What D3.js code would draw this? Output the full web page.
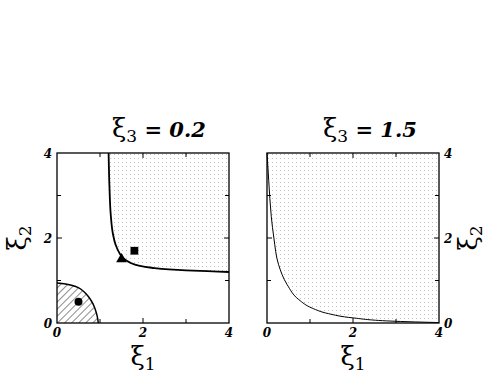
<!DOCTYPE html>
<html>
<head>
<meta charset="utf-8">
<script src="https://cdn.jsdelivr.net/npm/d3@7"></script>
<style>
  body { margin: 0; background: #fff; }
  svg { display: block; }
  text { font-family: "DejaVu Serif", serif; }
</style>
</head>
<body>
<svg id="chart" width="494" height="382"></svg>
<script>
// ---- data ----
// left panel (xi3 = 0.2): upper boundary curve
const leftCurveX = [1.20, 1.22, 1.25, 1.30, 1.36, 1.45, 1.55, 1.70, 1.90, 2.20, 2.60, 3.00, 3.50, 4.00];
const leftCurveY = [4.00, 3.20, 2.55, 2.10, 1.85, 1.65, 1.52, 1.42, 1.35, 1.30, 1.26, 1.24, 1.22, 1.20];
// left panel: hatched region near the origin
const hatchX = [0.00, 0.20, 0.40, 0.55, 0.68, 0.78, 0.86, 0.92, 0.95, 0.96];
const hatchY = [0.94, 0.92, 0.87, 0.80, 0.68, 0.55, 0.40, 0.22, 0.08, 0.00];
// left panel markers
const markerNames = ['circle', 'triangle', 'square'];
const markerX = [0.5, 1.5, 1.8];
const markerY = [0.5, 1.5, 1.7];
// right panel (xi3 = 1.5): boundary curve
const rightCurveX = [0.00, 0.04, 0.10, 0.16, 0.27, 0.47, 0.74, 1.05, 1.43, 2.00, 3.00, 4.00];
const rightCurveY = [4.00, 3.35, 2.50, 2.00, 1.37, 0.90, 0.55, 0.35, 0.22, 0.12, 0.04, 0.01];

const majorTicks = [0, 2, 4];
const minorTicks = [1, 3];
const titles = ['0.2', '1.5'];

// ---- layout ----
const svg = d3.select('#chart');
const panelW = 172, panelH = 170, panelTop = 153;
const panels = [
    { left: 57,  title: titles[0], titleX: 112, yLabelSide: 'left'  },
    { left: 267, title: titles[1], titleX: 323, yLabelSide: 'right' }
];

const defs = svg.append('defs');

let dots = defs.append('pattern')
    .attr('id', 'dots')
    .attr('patternUnits', 'userSpaceOnUse')
    .attr('width', 4).attr('height', 4);
dots.append('rect').attr('x', 1).attr('y', 1).attr('width', 1).attr('height', 1).attr('fill', '#c0c0c0');

let hatch = defs.append('pattern')
    .attr('id', 'hatch')
    .attr('patternUnits', 'userSpaceOnUse')
    .attr('width', 5).attr('height', 5)
    .attr('patternTransform', 'rotate(45)');
hatch.append('line')
    .attr('x1', 0).attr('y1', 0).attr('x2', 0).attr('y2', 5)
    .attr('stroke', '#000').attr('stroke-width', 0.9);

const x = d3.scaleLinear().domain([0, 4]).range([0, panelW]);
const y = d3.scaleLinear().domain([0, 4]).range([panelH, 0]);

const zip = (xs, ys) => xs.map((v, i) => [v, ys[i]]);
const line = d3.line().x(d => x(d[0])).y(d => y(d[1])).curve(d3.curveMonotoneX);
const lineY = d3.line().x(d => x(d[0])).y(d => y(d[1])).curve(d3.curveMonotoneY);

function drawFrame(g, p) {
    // ticks inward on all four sides
    let tickLen = (v) => majorTicks.includes(v) ? 5 : 4;
    let all = majorTicks.concat(minorTicks).filter(v => v > 0 && v < 4);
    g.selectAll('line.tb')
        .data(all.flatMap(v => [{ v: v, side: 'b' }, { v: v, side: 't' }]))
        .enter().append('line')
        .attr('x1', d => x(d.v)).attr('x2', d => x(d.v))
        .attr('y1', d => d.side == 'b' ? panelH : 0)
        .attr('y2', d => d.side == 'b' ? panelH - tickLen(d.v) : tickLen(d.v))
        .attr('stroke', '#000').attr('stroke-width', 1);
    g.selectAll('line.lr')
        .data(all.flatMap(v => [{ v: v, side: 'l' }, { v: v, side: 'r' }]))
        .enter().append('line')
        .attr('y1', d => y(d.v)).attr('y2', d => y(d.v))
        .attr('x1', d => d.side == 'l' ? 0 : panelW)
        .attr('x2', d => d.side == 'l' ? tickLen(d.v) : panelW - tickLen(d.v))
        .attr('stroke', '#000').attr('stroke-width', 1);
    g.append('rect')
        .attr('width', panelW).attr('height', panelH)
        .attr('fill', 'none').attr('stroke', '#000').attr('stroke-width', 1.3);

    // tick labels
    g.selectAll('text.xt')
        .data(majorTicks).enter().append('text')
        .attr('x', d => x(d)).attr('y', panelH + 14)
        .attr('text-anchor', 'middle')
        .attr('font-weight', 'bold')
        .attr('font-style', 'italic').attr('font-size', 12)
        .text(d => d);
    g.selectAll('text.yt')
        .data(majorTicks).enter().append('text')
        .attr('x', p.yLabelSide == 'left' ? -5 : panelW + 5)
        .attr('y', d => y(d) + 5)
        .attr('text-anchor', p.yLabelSide == 'left' ? 'end' : 'start')
        .attr('font-weight', 'bold')
        .attr('font-style', 'italic').attr('font-size', 12)
        .text(d => d);

    // axis titles
    let xl = g.append('text')
        .attr('x', x(2)).attr('y', panelH + 42)
        .attr('text-anchor', 'middle')
        .attr('font-size', 26);
    xl.append('tspan').text('ξ');
    xl.append('tspan').attr('font-size', 17).attr('dy', 5).text('1');

    let yx = p.yLabelSide == 'left' ? -31 : panelW + 38;
    let yl = g.append('text')
        .attr('transform', 'translate(' + yx + ',' + y(2) + ') rotate(-90)')
        .attr('text-anchor', 'middle')
        .attr('font-size', 26);
    yl.append('tspan').text('ξ');
    yl.append('tspan').attr('font-size', 17).attr('dy', 5).text('2');

    // panel title
    let t = svg.append('text')
        .attr('x', p.titleX).attr('y', 137)
        .attr('font-size', 26);
    t.append('tspan').text('ξ');
    t.append('tspan').attr('font-size', 17).attr('dy', 5).text('3');
    t.append('tspan').attr('dy', -5).attr('font-size', 21)
        .attr('font-weight', 'bold').attr('font-style', 'italic')
        .text(' = ' + p.title);
}

// ---- left panel ----
let g1 = svg.append('g').attr('transform', 'translate(' + panels[0].left + ',' + panelTop + ')');
let lc = zip(leftCurveX, leftCurveY);
g1.append('path')
    .attr('d', line(lc) + 'L' + x(4) + ',' + y(4) + 'Z')
    .attr('fill', 'url(#dots)');
let hc = zip(hatchX, hatchY);
g1.append('path')
    .attr('d', line(hc) + 'L' + x(0) + ',' + y(0) + 'Z')
    .attr('fill', 'url(#hatch)');
g1.append('path').attr('d', line(hc))
    .attr('fill', 'none').attr('stroke', '#000').attr('stroke-width', 1.5);
g1.append('path').attr('d', lineY(lc))
    .attr('fill', 'none').attr('stroke', '#000').attr('stroke-width', 1.8);

let sym = {
    circle:   d3.symbol().type(d3.symbolCircle).size(50),
    triangle: d3.symbol().type(d3.symbolTriangle).size(50),
    square:   d3.symbol().type(d3.symbolSquare).size(60)
};
g1.selectAll('path.marker')
    .data(markerNames.map((n, i) => ({ n: n, x: markerX[i], y: markerY[i] })))
    .enter().append('path')
    .attr('transform', d => 'translate(' + x(d.x) + ',' + y(d.y) + ')')
    .attr('d', d => sym[d.n]())
    .attr('fill', '#000');
drawFrame(g1, panels[0]);

// ---- right panel ----
let g2 = svg.append('g').attr('transform', 'translate(' + panels[1].left + ',' + panelTop + ')');
let rc = zip(rightCurveX, rightCurveY);
g2.append('path')
    .attr('d', lineY(rc) + 'L' + x(4) + ',' + y(4) + 'Z')
    .attr('fill', 'url(#dots)');
g2.append('path').attr('d', lineY(rc))
    .attr('fill', 'none').attr('stroke', '#000').attr('stroke-width', 1);
drawFrame(g2, panels[1]);
</script>
</body>
</html>
